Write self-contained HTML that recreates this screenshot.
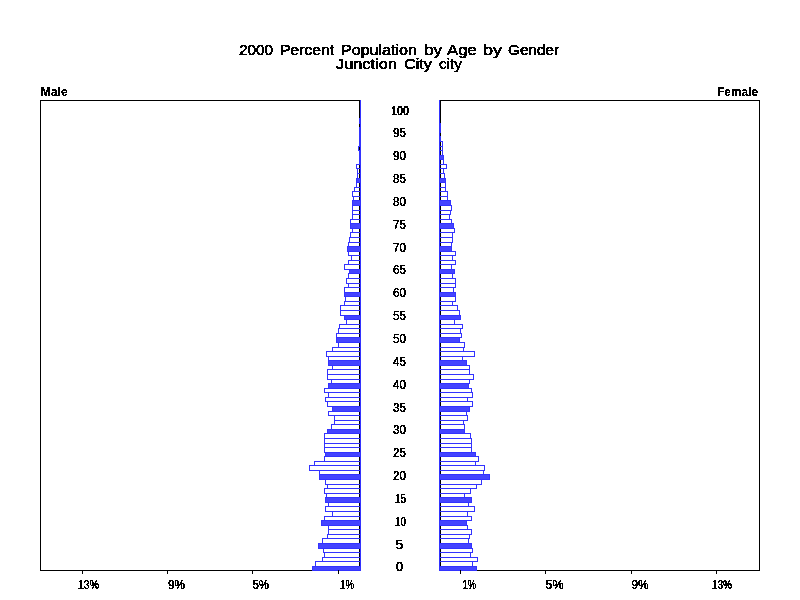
<!DOCTYPE html>
<html><head><meta charset="utf-8"><title>2000 Percent Population by Age by Gender</title>
<style>
html,body{margin:0;padding:0;background:#fff;}
body{width:800px;height:600px;overflow:hidden;}
svg{display:block;}
text{font-family:"Liberation Sans",sans-serif;}
</style></head><body>
<svg width="800" height="600" viewBox="0 0 800 600">
<defs><filter id="bin" x="0" y="0" width="100%" height="100%" filterUnits="userSpaceOnUse" color-interpolation-filters="sRGB"><feComponentTransfer><feFuncA type="discrete" tableValues="0 1"/></feComponentTransfer></filter></defs>
<rect x="0" y="0" width="800" height="600" fill="#fff"/>
<g filter="url(#bin)" fill="#000" stroke="#000" stroke-width="0.55" font-size="15.4">
<text x="239" y="54.75" textLength="34" lengthAdjust="spacingAndGlyphs">2000</text>
<text x="280" y="54.75" textLength="54" lengthAdjust="spacingAndGlyphs">Percent</text>
<text x="341" y="54.75" textLength="76" lengthAdjust="spacingAndGlyphs">Population</text>
<text x="424" y="54.75" textLength="18" lengthAdjust="spacingAndGlyphs">by</text>
<text x="447" y="54.75" textLength="30" lengthAdjust="spacingAndGlyphs">Age</text>
<text x="483" y="54.75" textLength="19" lengthAdjust="spacingAndGlyphs">by</text>
<text x="508" y="54.75" textLength="51" lengthAdjust="spacingAndGlyphs">Gender</text>
<text x="336" y="68.75" textLength="61" lengthAdjust="spacingAndGlyphs">Junction</text>
<text x="404" y="68.75" textLength="28" lengthAdjust="spacingAndGlyphs">City</text>
<text x="439" y="68.75" textLength="23" lengthAdjust="spacingAndGlyphs">city</text>
</g>
<g filter="url(#bin)" font-weight="bold" fill="#000" stroke="#000" stroke-width="0.2" font-size="12">
<text x="40.5" y="96" textLength="27.5" lengthAdjust="spacingAndGlyphs">Male</text>
<text x="717" y="96" textLength="41" lengthAdjust="spacingAndGlyphs">Female</text>
</g>
<g fill="#000">
<rect x="40" y="100" width="320" height="1"/>
<rect x="40" y="570" width="320" height="1"/>
<rect x="40" y="100" width="1" height="471"/>
<rect x="359" y="100" width="1" height="471"/>
<rect x="440" y="100" width="320" height="1"/>
<rect x="440" y="570" width="320" height="1"/>
<rect x="440" y="100" width="1" height="471"/>
<rect x="759" y="100" width="1" height="471"/>
</g>
<g stroke-width="1">
<rect x="439" y="100" width="1" height="471" fill="#3333ff"/>
<rect x="360" y="100" width="1" height="471" fill="#3333ff"/>
<rect x="312.5" y="566.5" width="48" height="4" fill="#4444ff" stroke="#3333ff"/>
<rect x="315.5" y="561.5" width="45" height="5" fill="none" stroke="#3333ff"/>
<rect x="322.5" y="557.5" width="38" height="4" fill="none" stroke="#3333ff"/>
<rect x="324.5" y="552.5" width="36" height="5" fill="none" stroke="#3333ff"/>
<rect x="323.5" y="548.5" width="37" height="4" fill="none" stroke="#3333ff"/>
<rect x="318.5" y="543.5" width="42" height="5" fill="#4444ff" stroke="#3333ff"/>
<rect x="322.5" y="538.5" width="38" height="5" fill="none" stroke="#3333ff"/>
<rect x="327.5" y="534.5" width="33" height="4" fill="none" stroke="#3333ff"/>
<rect x="328.5" y="529.5" width="32" height="5" fill="none" stroke="#3333ff"/>
<rect x="328.5" y="525.5" width="32" height="4" fill="none" stroke="#3333ff"/>
<rect x="321.5" y="520.5" width="39" height="5" fill="#4444ff" stroke="#3333ff"/>
<rect x="324.5" y="516.5" width="36" height="4" fill="none" stroke="#3333ff"/>
<rect x="332.5" y="511.5" width="28" height="5" fill="none" stroke="#3333ff"/>
<rect x="325.5" y="506.5" width="35" height="5" fill="none" stroke="#3333ff"/>
<rect x="328.5" y="502.5" width="32" height="4" fill="none" stroke="#3333ff"/>
<rect x="325.5" y="497.5" width="35" height="5" fill="#4444ff" stroke="#3333ff"/>
<rect x="326.5" y="493.5" width="34" height="4" fill="none" stroke="#3333ff"/>
<rect x="324.5" y="488.5" width="36" height="5" fill="none" stroke="#3333ff"/>
<rect x="327.5" y="484.5" width="33" height="4" fill="none" stroke="#3333ff"/>
<rect x="325.5" y="479.5" width="35" height="5" fill="none" stroke="#3333ff"/>
<rect x="319.5" y="474.5" width="41" height="5" fill="#4444ff" stroke="#3333ff"/>
<rect x="319.5" y="470.5" width="41" height="4" fill="none" stroke="#3333ff"/>
<rect x="309.5" y="465.5" width="51" height="5" fill="none" stroke="#3333ff"/>
<rect x="314.5" y="461.5" width="46" height="4" fill="none" stroke="#3333ff"/>
<rect x="324.5" y="456.5" width="36" height="5" fill="none" stroke="#3333ff"/>
<rect x="325.5" y="452.5" width="35" height="4" fill="#4444ff" stroke="#3333ff"/>
<rect x="324.5" y="447.5" width="36" height="5" fill="none" stroke="#3333ff"/>
<rect x="324.5" y="443.5" width="36" height="4" fill="none" stroke="#3333ff"/>
<rect x="324.5" y="438.5" width="36" height="5" fill="none" stroke="#3333ff"/>
<rect x="324.5" y="433.5" width="36" height="5" fill="none" stroke="#3333ff"/>
<rect x="327.5" y="429.5" width="33" height="4" fill="#4444ff" stroke="#3333ff"/>
<rect x="331.5" y="424.5" width="29" height="5" fill="none" stroke="#3333ff"/>
<rect x="334.5" y="420.5" width="26" height="4" fill="none" stroke="#3333ff"/>
<rect x="334.5" y="415.5" width="26" height="5" fill="none" stroke="#3333ff"/>
<rect x="328.5" y="411.5" width="32" height="4" fill="none" stroke="#3333ff"/>
<rect x="332.5" y="406.5" width="28" height="5" fill="#4444ff" stroke="#3333ff"/>
<rect x="327.5" y="401.5" width="33" height="5" fill="none" stroke="#3333ff"/>
<rect x="325.5" y="397.5" width="35" height="4" fill="none" stroke="#3333ff"/>
<rect x="328.5" y="392.5" width="32" height="5" fill="none" stroke="#3333ff"/>
<rect x="324.5" y="388.5" width="36" height="4" fill="none" stroke="#3333ff"/>
<rect x="328.5" y="383.5" width="32" height="5" fill="#4444ff" stroke="#3333ff"/>
<rect x="331.5" y="379.5" width="29" height="4" fill="none" stroke="#3333ff"/>
<rect x="327.5" y="374.5" width="33" height="5" fill="none" stroke="#3333ff"/>
<rect x="327.5" y="369.5" width="33" height="5" fill="none" stroke="#3333ff"/>
<rect x="332.5" y="365.5" width="28" height="4" fill="none" stroke="#3333ff"/>
<rect x="328.5" y="360.5" width="32" height="5" fill="#4444ff" stroke="#3333ff"/>
<rect x="328.5" y="356.5" width="32" height="4" fill="none" stroke="#3333ff"/>
<rect x="326.5" y="351.5" width="34" height="5" fill="none" stroke="#3333ff"/>
<rect x="332.5" y="347.5" width="28" height="4" fill="none" stroke="#3333ff"/>
<rect x="338.5" y="342.5" width="22" height="5" fill="none" stroke="#3333ff"/>
<rect x="336.5" y="337.5" width="24" height="5" fill="#4444ff" stroke="#3333ff"/>
<rect x="336.5" y="333.5" width="24" height="4" fill="none" stroke="#3333ff"/>
<rect x="338.5" y="328.5" width="22" height="5" fill="none" stroke="#3333ff"/>
<rect x="339.5" y="324.5" width="21" height="4" fill="none" stroke="#3333ff"/>
<rect x="346.5" y="319.5" width="14" height="5" fill="none" stroke="#3333ff"/>
<rect x="344.5" y="315.5" width="16" height="4" fill="#4444ff" stroke="#3333ff"/>
<rect x="340.5" y="310.5" width="20" height="5" fill="none" stroke="#3333ff"/>
<rect x="340.5" y="305.5" width="20" height="5" fill="none" stroke="#3333ff"/>
<rect x="344.5" y="301.5" width="16" height="4" fill="none" stroke="#3333ff"/>
<rect x="345.5" y="296.5" width="15" height="5" fill="none" stroke="#3333ff"/>
<rect x="344.5" y="292.5" width="16" height="4" fill="#4444ff" stroke="#3333ff"/>
<rect x="344.5" y="287.5" width="16" height="5" fill="none" stroke="#3333ff"/>
<rect x="348.5" y="283.5" width="12" height="4" fill="none" stroke="#3333ff"/>
<rect x="346.5" y="278.5" width="14" height="5" fill="none" stroke="#3333ff"/>
<rect x="348.5" y="273.5" width="12" height="5" fill="none" stroke="#3333ff"/>
<rect x="349.5" y="269.5" width="11" height="4" fill="#4444ff" stroke="#3333ff"/>
<rect x="344.5" y="264.5" width="16" height="5" fill="none" stroke="#3333ff"/>
<rect x="348.5" y="260.5" width="12" height="4" fill="none" stroke="#3333ff"/>
<rect x="351.5" y="255.5" width="9" height="5" fill="none" stroke="#3333ff"/>
<rect x="348.5" y="251.5" width="12" height="4" fill="none" stroke="#3333ff"/>
<rect x="347.5" y="246.5" width="13" height="5" fill="#4444ff" stroke="#3333ff"/>
<rect x="348.5" y="242.5" width="12" height="4" fill="none" stroke="#3333ff"/>
<rect x="349.5" y="237.5" width="11" height="5" fill="none" stroke="#3333ff"/>
<rect x="350.5" y="232.5" width="10" height="5" fill="none" stroke="#3333ff"/>
<rect x="352.5" y="228.5" width="8" height="4" fill="none" stroke="#3333ff"/>
<rect x="350.5" y="223.5" width="10" height="5" fill="#4444ff" stroke="#3333ff"/>
<rect x="350.5" y="219.5" width="10" height="4" fill="none" stroke="#3333ff"/>
<rect x="352.5" y="214.5" width="8" height="5" fill="none" stroke="#3333ff"/>
<rect x="352.5" y="210.5" width="8" height="4" fill="none" stroke="#3333ff"/>
<rect x="352.5" y="205.5" width="8" height="5" fill="none" stroke="#3333ff"/>
<rect x="352.5" y="200.5" width="8" height="5" fill="#4444ff" stroke="#3333ff"/>
<rect x="353.5" y="196.5" width="7" height="4" fill="none" stroke="#3333ff"/>
<rect x="352.5" y="191.5" width="8" height="5" fill="none" stroke="#3333ff"/>
<rect x="354.5" y="187.5" width="6" height="4" fill="none" stroke="#3333ff"/>
<rect x="356.5" y="182.5" width="4" height="5" fill="none" stroke="#3333ff"/>
<rect x="356.5" y="178.5" width="4" height="4" fill="#4444ff" stroke="#3333ff"/>
<rect x="357.5" y="173.5" width="3" height="5" fill="none" stroke="#3333ff"/>
<rect x="357.5" y="168.5" width="3" height="5" fill="none" stroke="#3333ff"/>
<rect x="356.5" y="164.5" width="4" height="4" fill="none" stroke="#3333ff"/>
<rect x="359.5" y="159.5" width="1" height="5" fill="none" stroke="#3333ff"/>
<rect x="359.5" y="155.5" width="1" height="4" fill="#4444ff" stroke="#3333ff"/>
<rect x="359.5" y="150.5" width="1" height="5" fill="none" stroke="#3333ff"/>
<rect x="358.5" y="146.5" width="2" height="4" fill="none" stroke="#3333ff"/>
<rect x="359.5" y="141.5" width="1" height="5" fill="none" stroke="#3333ff"/>
<rect x="359.5" y="136.5" width="1" height="5" fill="none" stroke="#3333ff"/>
<rect x="359.5" y="132.5" width="1" height="4" fill="#4444ff" stroke="#3333ff"/>
<rect x="359.5" y="127.5" width="1" height="5" fill="none" stroke="#3333ff"/>
<rect x="360" y="123" width="1" height="5" fill="#3333ff"/>
<rect x="359.5" y="118.5" width="1" height="5" fill="none" stroke="#3333ff"/>
<rect x="439.5" y="566.5" width="37" height="4" fill="#4444ff" stroke="#3333ff"/>
<rect x="439.5" y="561.5" width="33" height="5" fill="none" stroke="#3333ff"/>
<rect x="439.5" y="557.5" width="38" height="4" fill="none" stroke="#3333ff"/>
<rect x="439.5" y="552.5" width="31" height="5" fill="none" stroke="#3333ff"/>
<rect x="439.5" y="548.5" width="33" height="4" fill="none" stroke="#3333ff"/>
<rect x="439.5" y="543.5" width="32" height="5" fill="#4444ff" stroke="#3333ff"/>
<rect x="439.5" y="538.5" width="29" height="5" fill="none" stroke="#3333ff"/>
<rect x="439.5" y="534.5" width="30" height="4" fill="none" stroke="#3333ff"/>
<rect x="439.5" y="529.5" width="32" height="5" fill="none" stroke="#3333ff"/>
<rect x="439.5" y="525.5" width="28" height="4" fill="none" stroke="#3333ff"/>
<rect x="439.5" y="520.5" width="27" height="5" fill="#4444ff" stroke="#3333ff"/>
<rect x="439.5" y="516.5" width="32" height="4" fill="none" stroke="#3333ff"/>
<rect x="439.5" y="511.5" width="28" height="5" fill="none" stroke="#3333ff"/>
<rect x="439.5" y="506.5" width="35" height="5" fill="none" stroke="#3333ff"/>
<rect x="439.5" y="502.5" width="29" height="4" fill="none" stroke="#3333ff"/>
<rect x="439.5" y="497.5" width="32" height="5" fill="#4444ff" stroke="#3333ff"/>
<rect x="439.5" y="493.5" width="25" height="4" fill="none" stroke="#3333ff"/>
<rect x="439.5" y="488.5" width="31" height="5" fill="none" stroke="#3333ff"/>
<rect x="439.5" y="484.5" width="37" height="4" fill="none" stroke="#3333ff"/>
<rect x="439.5" y="479.5" width="42" height="5" fill="none" stroke="#3333ff"/>
<rect x="439.5" y="474.5" width="50" height="5" fill="#4444ff" stroke="#3333ff"/>
<rect x="439.5" y="470.5" width="44" height="4" fill="none" stroke="#3333ff"/>
<rect x="439.5" y="465.5" width="45" height="5" fill="none" stroke="#3333ff"/>
<rect x="439.5" y="461.5" width="36" height="4" fill="none" stroke="#3333ff"/>
<rect x="439.5" y="456.5" width="39" height="5" fill="none" stroke="#3333ff"/>
<rect x="439.5" y="452.5" width="36" height="4" fill="#4444ff" stroke="#3333ff"/>
<rect x="439.5" y="447.5" width="32" height="5" fill="none" stroke="#3333ff"/>
<rect x="439.5" y="443.5" width="32" height="4" fill="none" stroke="#3333ff"/>
<rect x="439.5" y="438.5" width="32" height="5" fill="none" stroke="#3333ff"/>
<rect x="439.5" y="433.5" width="31" height="5" fill="none" stroke="#3333ff"/>
<rect x="439.5" y="429.5" width="25" height="4" fill="#4444ff" stroke="#3333ff"/>
<rect x="439.5" y="424.5" width="25" height="5" fill="none" stroke="#3333ff"/>
<rect x="439.5" y="420.5" width="24" height="4" fill="none" stroke="#3333ff"/>
<rect x="439.5" y="415.5" width="28" height="5" fill="none" stroke="#3333ff"/>
<rect x="439.5" y="411.5" width="27" height="4" fill="none" stroke="#3333ff"/>
<rect x="439.5" y="406.5" width="30" height="5" fill="#4444ff" stroke="#3333ff"/>
<rect x="439.5" y="401.5" width="33" height="5" fill="none" stroke="#3333ff"/>
<rect x="439.5" y="397.5" width="28" height="4" fill="none" stroke="#3333ff"/>
<rect x="439.5" y="392.5" width="33" height="5" fill="none" stroke="#3333ff"/>
<rect x="439.5" y="388.5" width="32" height="4" fill="none" stroke="#3333ff"/>
<rect x="439.5" y="383.5" width="29" height="5" fill="#4444ff" stroke="#3333ff"/>
<rect x="439.5" y="379.5" width="30" height="4" fill="none" stroke="#3333ff"/>
<rect x="439.5" y="374.5" width="34" height="5" fill="none" stroke="#3333ff"/>
<rect x="439.5" y="369.5" width="30" height="5" fill="none" stroke="#3333ff"/>
<rect x="439.5" y="365.5" width="30" height="4" fill="none" stroke="#3333ff"/>
<rect x="439.5" y="360.5" width="27" height="5" fill="#4444ff" stroke="#3333ff"/>
<rect x="439.5" y="356.5" width="23" height="4" fill="none" stroke="#3333ff"/>
<rect x="439.5" y="351.5" width="35" height="5" fill="none" stroke="#3333ff"/>
<rect x="439.5" y="347.5" width="24" height="4" fill="none" stroke="#3333ff"/>
<rect x="439.5" y="342.5" width="25" height="5" fill="none" stroke="#3333ff"/>
<rect x="439.5" y="337.5" width="20" height="5" fill="#4444ff" stroke="#3333ff"/>
<rect x="439.5" y="333.5" width="22" height="4" fill="none" stroke="#3333ff"/>
<rect x="439.5" y="328.5" width="21" height="5" fill="none" stroke="#3333ff"/>
<rect x="439.5" y="324.5" width="23" height="4" fill="none" stroke="#3333ff"/>
<rect x="439.5" y="319.5" width="15" height="5" fill="none" stroke="#3333ff"/>
<rect x="439.5" y="315.5" width="21" height="4" fill="#4444ff" stroke="#3333ff"/>
<rect x="439.5" y="310.5" width="20" height="5" fill="none" stroke="#3333ff"/>
<rect x="439.5" y="305.5" width="18" height="5" fill="none" stroke="#3333ff"/>
<rect x="439.5" y="301.5" width="13" height="4" fill="none" stroke="#3333ff"/>
<rect x="439.5" y="296.5" width="16" height="5" fill="none" stroke="#3333ff"/>
<rect x="439.5" y="292.5" width="16" height="4" fill="#4444ff" stroke="#3333ff"/>
<rect x="439.5" y="287.5" width="14" height="5" fill="none" stroke="#3333ff"/>
<rect x="439.5" y="283.5" width="16" height="4" fill="none" stroke="#3333ff"/>
<rect x="439.5" y="278.5" width="16" height="5" fill="none" stroke="#3333ff"/>
<rect x="439.5" y="273.5" width="13" height="5" fill="none" stroke="#3333ff"/>
<rect x="439.5" y="269.5" width="15" height="4" fill="#4444ff" stroke="#3333ff"/>
<rect x="439.5" y="264.5" width="12" height="5" fill="none" stroke="#3333ff"/>
<rect x="439.5" y="260.5" width="16" height="4" fill="none" stroke="#3333ff"/>
<rect x="439.5" y="255.5" width="13" height="5" fill="none" stroke="#3333ff"/>
<rect x="439.5" y="251.5" width="16" height="4" fill="none" stroke="#3333ff"/>
<rect x="439.5" y="246.5" width="12" height="5" fill="#4444ff" stroke="#3333ff"/>
<rect x="439.5" y="242.5" width="12" height="4" fill="none" stroke="#3333ff"/>
<rect x="439.5" y="237.5" width="13" height="5" fill="none" stroke="#3333ff"/>
<rect x="439.5" y="232.5" width="13" height="5" fill="none" stroke="#3333ff"/>
<rect x="439.5" y="228.5" width="15" height="4" fill="none" stroke="#3333ff"/>
<rect x="439.5" y="223.5" width="14" height="5" fill="#4444ff" stroke="#3333ff"/>
<rect x="439.5" y="219.5" width="12" height="4" fill="none" stroke="#3333ff"/>
<rect x="439.5" y="214.5" width="10" height="5" fill="none" stroke="#3333ff"/>
<rect x="439.5" y="210.5" width="11" height="4" fill="none" stroke="#3333ff"/>
<rect x="439.5" y="205.5" width="12" height="5" fill="none" stroke="#3333ff"/>
<rect x="439.5" y="200.5" width="11" height="5" fill="#4444ff" stroke="#3333ff"/>
<rect x="439.5" y="196.5" width="8" height="4" fill="none" stroke="#3333ff"/>
<rect x="439.5" y="191.5" width="8" height="5" fill="none" stroke="#3333ff"/>
<rect x="439.5" y="187.5" width="6" height="4" fill="none" stroke="#3333ff"/>
<rect x="439.5" y="182.5" width="6" height="5" fill="none" stroke="#3333ff"/>
<rect x="439.5" y="178.5" width="6" height="4" fill="#4444ff" stroke="#3333ff"/>
<rect x="439.5" y="173.5" width="5" height="5" fill="none" stroke="#3333ff"/>
<rect x="439.5" y="168.5" width="4" height="5" fill="none" stroke="#3333ff"/>
<rect x="439.5" y="164.5" width="7" height="4" fill="none" stroke="#3333ff"/>
<rect x="439.5" y="159.5" width="4" height="5" fill="none" stroke="#3333ff"/>
<rect x="439.5" y="155.5" width="4" height="4" fill="#4444ff" stroke="#3333ff"/>
<rect x="439.5" y="150.5" width="3" height="5" fill="none" stroke="#3333ff"/>
<rect x="439.5" y="146.5" width="3" height="4" fill="none" stroke="#3333ff"/>
<rect x="439.5" y="141.5" width="3" height="5" fill="none" stroke="#3333ff"/>
<rect x="439.5" y="136.5" width="1" height="5" fill="none" stroke="#3333ff"/>
<rect x="439.5" y="127.5" width="1" height="5" fill="none" stroke="#3333ff"/>
<rect x="439.5" y="123.5" width="1" height="4" fill="none" stroke="#3333ff"/>
</g>
<g filter="url(#bin)" fill="#000" stroke="#000" stroke-width="0.45" font-size="12.5">
<text x="395.75" y="571" textLength="7.5" lengthAdjust="spacingAndGlyphs">0</text>
<text x="395.75" y="549" textLength="7.5" lengthAdjust="spacingAndGlyphs">5</text>
<text x="395" y="526" textLength="11" lengthAdjust="spacingAndGlyphs">10</text>
<text x="395" y="503" textLength="11" lengthAdjust="spacingAndGlyphs">15</text>
<text x="393" y="480" textLength="13" lengthAdjust="spacingAndGlyphs">20</text>
<text x="393" y="457" textLength="13" lengthAdjust="spacingAndGlyphs">25</text>
<text x="393" y="434" textLength="13" lengthAdjust="spacingAndGlyphs">30</text>
<text x="393" y="412" textLength="13" lengthAdjust="spacingAndGlyphs">35</text>
<text x="393" y="389" textLength="13" lengthAdjust="spacingAndGlyphs">40</text>
<text x="393" y="366" textLength="13" lengthAdjust="spacingAndGlyphs">45</text>
<text x="393" y="343" textLength="13" lengthAdjust="spacingAndGlyphs">50</text>
<text x="393" y="320" textLength="13" lengthAdjust="spacingAndGlyphs">55</text>
<text x="393" y="297" textLength="13" lengthAdjust="spacingAndGlyphs">60</text>
<text x="393" y="274" textLength="13" lengthAdjust="spacingAndGlyphs">65</text>
<text x="393" y="252" textLength="13" lengthAdjust="spacingAndGlyphs">70</text>
<text x="393" y="229" textLength="13" lengthAdjust="spacingAndGlyphs">75</text>
<text x="393" y="206" textLength="13" lengthAdjust="spacingAndGlyphs">80</text>
<text x="393" y="183" textLength="13" lengthAdjust="spacingAndGlyphs">85</text>
<text x="393" y="160" textLength="13" lengthAdjust="spacingAndGlyphs">90</text>
<text x="393" y="137" textLength="13" lengthAdjust="spacingAndGlyphs">95</text>
<text x="391" y="115" textLength="18" lengthAdjust="spacingAndGlyphs">100</text>
</g>
<g>
<rect x="82" y="570" width="1" height="4" fill="#000"/>
<rect x="167" y="570" width="1" height="4" fill="#000"/>
<rect x="252" y="570" width="1" height="4" fill="#000"/>
<rect x="338" y="570" width="1" height="4" fill="#000"/>
<rect x="460" y="570" width="1" height="4" fill="#000"/>
<rect x="545" y="570" width="1" height="4" fill="#000"/>
<rect x="631" y="570" width="1" height="4" fill="#000"/>
<rect x="716" y="570" width="1" height="4" fill="#000"/>
</g>
<g filter="url(#bin)" fill="#000" stroke="#000" stroke-width="0.45" font-size="12.5">
<text x="78" y="589" textLength="21" lengthAdjust="spacingAndGlyphs">13%</text>
<text x="168" y="589" textLength="17" lengthAdjust="spacingAndGlyphs">9%</text>
<text x="252.5" y="589" textLength="16.5" lengthAdjust="spacingAndGlyphs">5%</text>
<text x="340" y="589" textLength="14" lengthAdjust="spacingAndGlyphs">1%</text>
<text x="462.5" y="589" textLength="13.5" lengthAdjust="spacingAndGlyphs">1%</text>
<text x="545.5" y="589" textLength="18" lengthAdjust="spacingAndGlyphs">5%</text>
<text x="631.5" y="589" textLength="17" lengthAdjust="spacingAndGlyphs">9%</text>
<text x="712" y="589" textLength="20" lengthAdjust="spacingAndGlyphs">13%</text>
</g>
</svg>
</body></html>
